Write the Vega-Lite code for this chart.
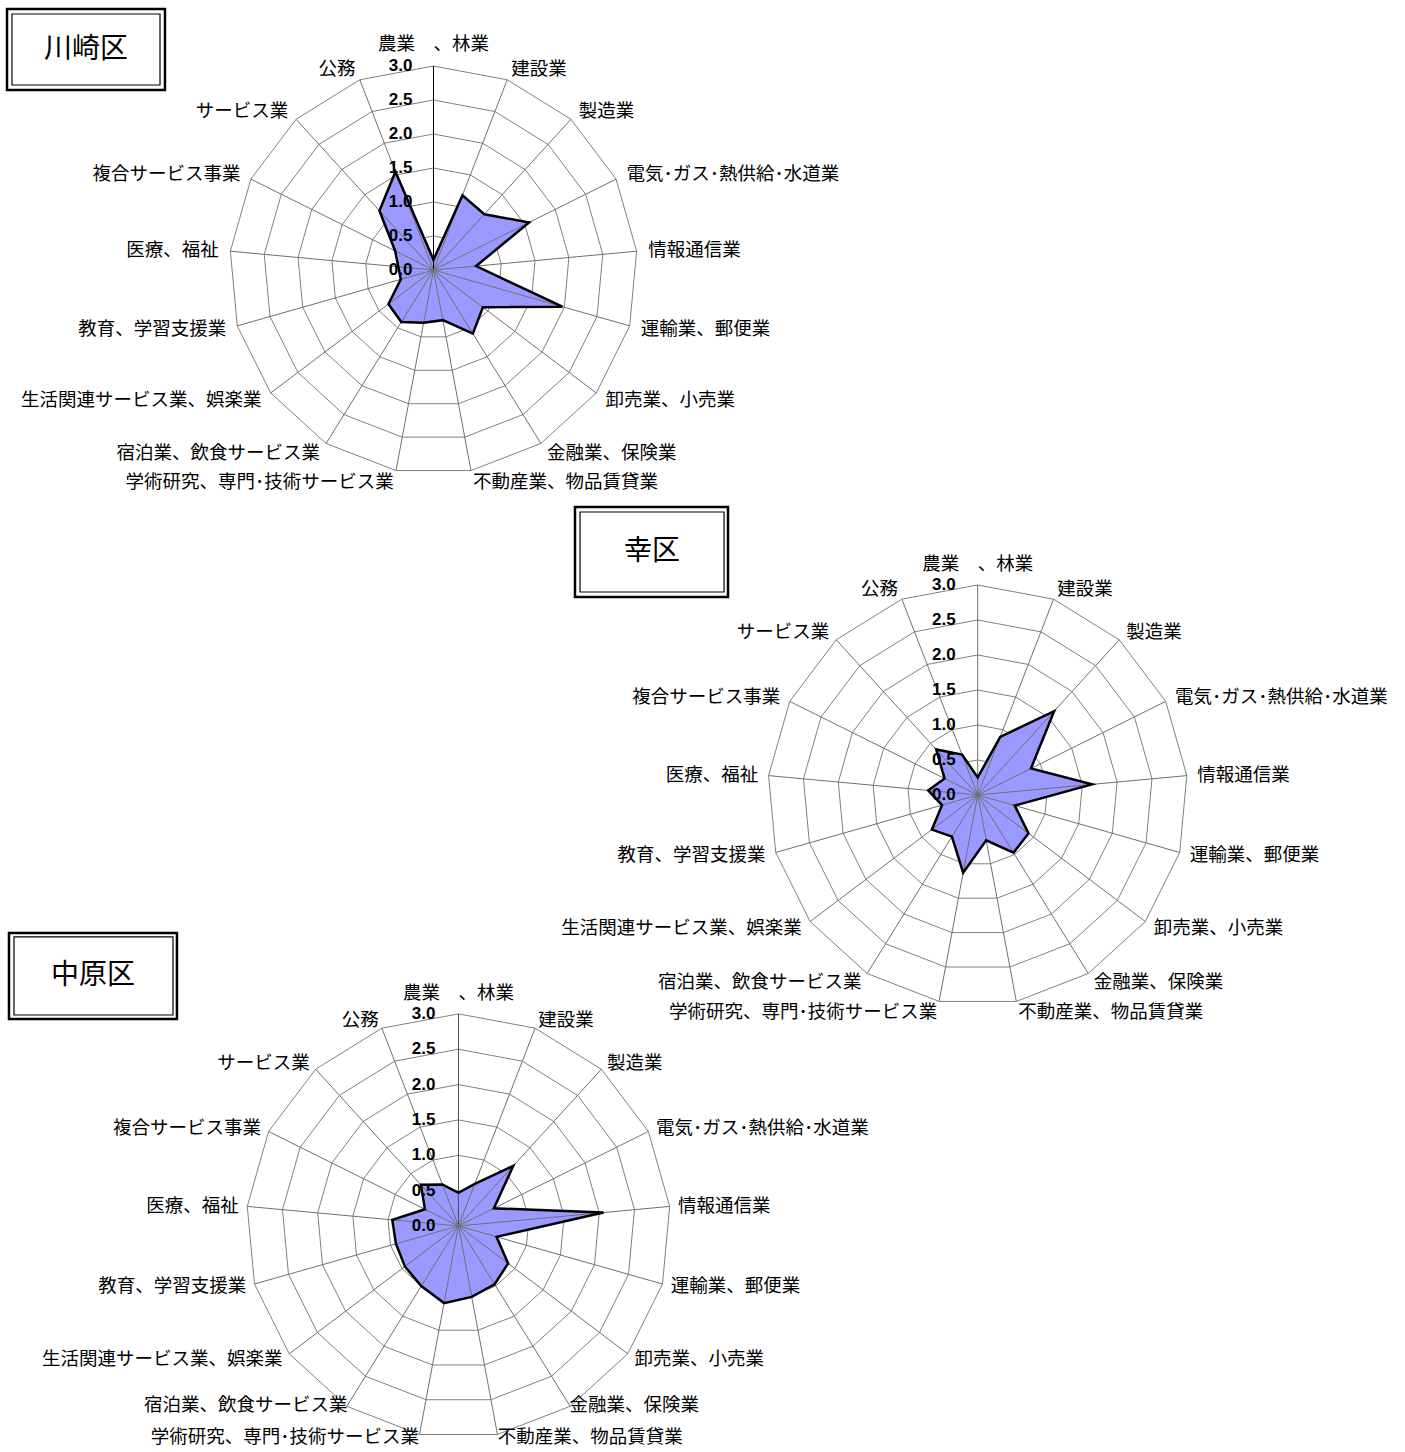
{
"$schema": "https://vega.github.io/schema/vega-lite/v6.json",
"width": 1405, "height": 1452, "autosize": {"type": "none"}, "padding": 0,
"background": "white",
"config": {"view": {"stroke": null}},
"datasets": {
"vals": [
{"district":"川崎区","idx":0,"category":"農業　、林業","value":0.15},
{"district":"川崎区","idx":1,"category":"建設業","value":1.18},
{"district":"川崎区","idx":2,"category":"製造業","value":1.11},
{"district":"川崎区","idx":3,"category":"電気･ガス･熱供給･水道業","value":1.57},
{"district":"川崎区","idx":4,"category":"情報通信業","value":0.63},
{"district":"川崎区","idx":5,"category":"運輸業、郵便業","value":1.97},
{"district":"川崎区","idx":6,"category":"卸売業、小売業","value":0.91},
{"district":"川崎区","idx":7,"category":"金融業、保険業","value":1.10},
{"district":"川崎区","idx":8,"category":"不動産業、物品賃貸業","value":0.75},
{"district":"川崎区","idx":9,"category":"学術研究、専門･技術サービス業","value":0.79},
{"district":"川崎区","idx":10,"category":"宿泊業、飲食サービス業","value":0.90},
{"district":"川崎区","idx":11,"category":"生活関連サービス業、娯楽業","value":0.83},
{"district":"川崎区","idx":12,"category":"教育、学習支援業","value":0.50},
{"district":"川崎区","idx":13,"category":"医療、福祉","value":0.52},
{"district":"川崎区","idx":14,"category":"複合サービス事業","value":0.63},
{"district":"川崎区","idx":15,"category":"サービス業","value":1.18},
{"district":"川崎区","idx":16,"category":"公務","value":1.55},
{"district":"幸区","idx":0,"category":"農業　、林業","value":0.25},
{"district":"幸区","idx":1,"category":"建設業","value":0.89},
{"district":"幸区","idx":2,"category":"製造業","value":1.62},
{"district":"幸区","idx":3,"category":"電気･ガス･熱供給･水道業","value":0.85},
{"district":"幸区","idx":4,"category":"情報通信業","value":1.64},
{"district":"幸区","idx":5,"category":"運輸業、郵便業","value":0.55},
{"district":"幸区","idx":6,"category":"卸売業、小売業","value":0.91},
{"district":"幸区","idx":7,"category":"金融業、保険業","value":0.97},
{"district":"幸区","idx":8,"category":"不動産業、物品賃貸業","value":0.66},
{"district":"幸区","idx":9,"category":"学術研究、専門･技術サービス業","value":1.13},
{"district":"幸区","idx":10,"category":"宿泊業、飲食サービス業","value":0.70},
{"district":"幸区","idx":11,"category":"生活関連サービス業、娯楽業","value":0.82},
{"district":"幸区","idx":12,"category":"教育、学習支援業","value":0.53},
{"district":"幸区","idx":13,"category":"医療、福祉","value":0.71},
{"district":"幸区","idx":14,"category":"複合サービス事業","value":0.53},
{"district":"幸区","idx":15,"category":"サービス業","value":0.88},
{"district":"幸区","idx":16,"category":"公務","value":0.62},
{"district":"中原区","idx":0,"category":"農業　、林業","value":0.47},
{"district":"中原区","idx":1,"category":"建設業","value":0.64},
{"district":"中原区","idx":2,"category":"製造業","value":1.15},
{"district":"中原区","idx":3,"category":"電気･ガス･熱供給･水道業","value":0.56},
{"district":"中原区","idx":4,"category":"情報通信業","value":2.06},
{"district":"中原区","idx":5,"category":"運輸業、郵便業","value":0.56},
{"district":"中原区","idx":6,"category":"卸売業、小売業","value":0.88},
{"district":"中原区","idx":7,"category":"金融業、保険業","value":0.97},
{"district":"中原区","idx":8,"category":"不動産業、物品賃貸業","value":1.02},
{"district":"中原区","idx":9,"category":"学術研究、専門･技術サービス業","value":1.11},
{"district":"中原区","idx":10,"category":"宿泊業、飲食サービス業","value":1.00},
{"district":"中原区","idx":11,"category":"生活関連サービス業、娯楽業","value":0.95},
{"district":"中原区","idx":12,"category":"教育、学習支援業","value":0.92},
{"district":"中原区","idx":13,"category":"医療、福祉","value":0.94},
{"district":"中原区","idx":14,"category":"複合サービス事業","value":0.53},
{"district":"中原区","idx":15,"category":"サービス業","value":0.79},
{"district":"中原区","idx":16,"category":"公務","value":0.63}
],
"levels": [{"level":0},{"level":0.5},{"level":1},{"level":1.5},{"level":2},{"level":2.5},{"level":3}]
},
"resolve": {"scale": {"x": "independent", "y": "independent"}},
"layer": [
{
"layer": [
{"data":{"name":"vals"},"transform":[{"filter":"datum.district=='川崎区'"},{"calculate":"[0.5,1,1.5,2,2.5,3]","as":"lv"},{"flatten":["lv"]},{"calculate":"datum.lv*sin(datum.idx*2*PI/17)","as":"gx"},{"calculate":"datum.lv*cos(datum.idx*2*PI/17)","as":"gy"}],
 "mark":{"type":"line","interpolate":"linear-closed","stroke":"#808080","strokeWidth":1},
 "encoding":{"x":{"field":"gx","type":"quantitative","scale":{"domain":[-6.375,14.287],"nice":false,"zero":false},"axis":null},"y":{"field":"gy","type":"quantitative","scale":{"domain":[-17.382,3.971],"nice":false,"zero":false},"axis":null},"detail":{"field":"lv","type":"nominal"},"order":{"field":"idx","type":"quantitative"}}},
{"data":{"name":"vals"},"transform":[{"filter":"datum.district=='川崎区'"},{"calculate":"datum.value*sin(datum.idx*2*PI/17)","as":"px"},{"calculate":"datum.value*cos(datum.idx*2*PI/17)","as":"py"}],
 "mark":{"type":"line","interpolate":"linear-closed","fill":"#9999ff","strokeWidth":0},
 "encoding":{"x":{"field":"px","type":"quantitative","scale":{"domain":[-6.375,14.287],"nice":false,"zero":false},"axis":null},"y":{"field":"py","type":"quantitative","scale":{"domain":[-17.382,3.971],"nice":false,"zero":false},"axis":null},"order":{"field":"idx","type":"quantitative"}}},
{"data":{"name":"vals"},"transform":[{"filter":"datum.district=='川崎区'"},{"calculate":"3*sin(datum.idx*2*PI/17)","as":"sx"},{"calculate":"3*cos(datum.idx*2*PI/17)","as":"sy"}],
 "mark":{"type":"rule","strokeWidth":1},
 "encoding":{"x":{"field":"sx","type":"quantitative","scale":{"domain":[-6.375,14.287],"nice":false,"zero":false},"axis":null},"y":{"field":"sy","type":"quantitative","scale":{"domain":[-17.382,3.971],"nice":false,"zero":false},"axis":null},"x2":{"datum":0},"y2":{"datum":0},
 "color":{"condition":{"test":"datum.idx==0","value":"black"},"value":"#707070"}}},
{"data":{"name":"vals"},"transform":[{"filter":"datum.district=='川崎区'"},{"calculate":"datum.value*sin(datum.idx*2*PI/17)","as":"px"},{"calculate":"datum.value*cos(datum.idx*2*PI/17)","as":"py"}],
 "mark":{"type":"line","interpolate":"linear-closed","stroke":"black","strokeWidth":2.5,"strokeJoin":"miter"},
 "encoding":{"x":{"field":"px","type":"quantitative","scale":{"domain":[-6.375,14.287],"nice":false,"zero":false},"axis":null},"y":{"field":"py","type":"quantitative","scale":{"domain":[-17.382,3.971],"nice":false,"zero":false},"axis":null},"order":{"field":"idx","type":"quantitative"}}},
{"data":{"name":"levels"},
 "mark":{"type":"text","align":"right","baseline":"middle","dx":-21,"font":"Liberation Sans Narrow, Liberation Sans","fontWeight":"bold","fontSize":17,"color":"black"},
 "encoding":{"x":{"datum":0,"type":"quantitative","scale":{"domain":[-6.375,14.287],"nice":false,"zero":false},"axis":null},"y":{"field":"level","type":"quantitative","scale":{"domain":[-17.382,3.971],"nice":false,"zero":false},"axis":null},"text":{"field":"level","type":"quantitative","format":".1f"}}},
{"data":{"name":"vals"},"transform":[{"filter":"datum.district=='川崎区' && datum.idx==0"},{"calculate":"3.32*sin(datum.idx*2*PI/17)","as":"lx"},{"calculate":"3.32*cos(datum.idx*2*PI/17)","as":"ly"}],
 "mark":{"type":"text","align":"center","baseline":"middle","font":"Noto Sans CJK JP","fontSize":18.5,"color":"black"},
 "encoding":{"x":{"field":"lx","type":"quantitative","scale":{"domain":[-6.375,14.287],"nice":false,"zero":false},"axis":null},"y":{"field":"ly","type":"quantitative","scale":{"domain":[-17.382,3.971],"nice":false,"zero":false},"axis":null},"text":{"field":"category","type":"nominal"}}},
{"data":{"name":"vals"},"transform":[{"filter":"datum.district=='川崎区' && datum.idx>=1 && datum.idx<=8"},{"calculate":"3.17*sin(datum.idx*2*PI/17)","as":"lx"},{"calculate":"3.17*cos(datum.idx*2*PI/17)","as":"ly"}],
 "mark":{"type":"text","align":"left","baseline":"middle","font":"Noto Sans CJK JP","fontSize":18.5,"color":"black"},
 "encoding":{"x":{"field":"lx","type":"quantitative","scale":{"domain":[-6.375,14.287],"nice":false,"zero":false},"axis":null},"y":{"field":"ly","type":"quantitative","scale":{"domain":[-17.382,3.971],"nice":false,"zero":false},"axis":null},"text":{"field":"category","type":"nominal"}}},
{"data":{"name":"vals"},"transform":[{"filter":"datum.district=='川崎区' && datum.idx>=9"},{"calculate":"3.17*sin(datum.idx*2*PI/17)","as":"lx"},{"calculate":"3.17*cos(datum.idx*2*PI/17)","as":"ly"}],
 "mark":{"type":"text","align":"right","baseline":"middle","font":"Noto Sans CJK JP","fontSize":18.5,"color":"black"},
 "encoding":{"x":{"field":"lx","type":"quantitative","scale":{"domain":[-6.375,14.287],"nice":false,"zero":false},"axis":null},"y":{"field":"ly","type":"quantitative","scale":{"domain":[-17.382,3.971],"nice":false,"zero":false},"axis":null},"text":{"field":"category","type":"nominal"}}},
{"data":{"values":[{}]},"mark":{"type":"rect","filled":false,"stroke":"black","strokeWidth":2.5},
 "encoding":{"x":{"datum":-6.272,"type":"quantitative","scale":{"domain":[-6.375,14.287],"nice":false,"zero":false},"axis":null},"x2":{"datum":-3.949},"y":{"datum":3.838,"type":"quantitative","scale":{"domain":[-17.382,3.971],"nice":false,"zero":false},"axis":null},"y2":{"datum":2.647}}},
{"data":{"values":[{}]},"mark":{"type":"rect","filled":false,"stroke":"black","strokeWidth":1.2},
 "encoding":{"x":{"datum":-6.199,"type":"quantitative","scale":{"domain":[-6.375,14.287],"nice":false,"zero":false},"axis":null},"x2":{"datum":-4.022},"y":{"datum":3.765,"type":"quantitative","scale":{"domain":[-17.382,3.971],"nice":false,"zero":false},"axis":null},"y2":{"datum":2.721}}},
{"data":{"values":[{}]},"mark":{"type":"text","text":"川崎区","align":"center","baseline":"middle","font":"Noto Sans CJK JP","fontSize":28,"color":"black"},
 "encoding":{"x":{"datum":-5.110,"type":"quantitative","scale":{"domain":[-6.375,14.287],"nice":false,"zero":false},"axis":null},"y":{"datum":3.235,"type":"quantitative","scale":{"domain":[-17.382,3.971],"nice":false,"zero":false},"axis":null}}}
]
},
{
"layer": [
{"data":{"name":"vals"},"transform":[{"filter":"datum.district=='幸区'"},{"calculate":"[0.5,1,1.5,2,2.5,3]","as":"lv"},{"flatten":["lv"]},{"calculate":"datum.lv*sin(datum.idx*2*PI/17)","as":"gx"},{"calculate":"datum.lv*cos(datum.idx*2*PI/17)","as":"gy"}],
 "mark":{"type":"line","interpolate":"linear-closed","stroke":"#808080","strokeWidth":1},
 "encoding":{"x":{"field":"gx","type":"quantitative","scale":{"domain":[-13.967,6.104],"nice":false,"zero":false},"axis":null},"y":{"field":"gy","type":"quantitative","scale":{"domain":[-9.386,11.357],"nice":false,"zero":false},"axis":null},"detail":{"field":"lv","type":"nominal"},"order":{"field":"idx","type":"quantitative"}}},
{"data":{"name":"vals"},"transform":[{"filter":"datum.district=='幸区'"},{"calculate":"datum.value*sin(datum.idx*2*PI/17)","as":"px"},{"calculate":"datum.value*cos(datum.idx*2*PI/17)","as":"py"}],
 "mark":{"type":"line","interpolate":"linear-closed","fill":"#9999ff","strokeWidth":0},
 "encoding":{"x":{"field":"px","type":"quantitative","scale":{"domain":[-13.967,6.104],"nice":false,"zero":false},"axis":null},"y":{"field":"py","type":"quantitative","scale":{"domain":[-9.386,11.357],"nice":false,"zero":false},"axis":null},"order":{"field":"idx","type":"quantitative"}}},
{"data":{"name":"vals"},"transform":[{"filter":"datum.district=='幸区'"},{"calculate":"3*sin(datum.idx*2*PI/17)","as":"sx"},{"calculate":"3*cos(datum.idx*2*PI/17)","as":"sy"}],
 "mark":{"type":"rule","stroke":"#707070","strokeWidth":1},
 "encoding":{"x":{"field":"sx","type":"quantitative","scale":{"domain":[-13.967,6.104],"nice":false,"zero":false},"axis":null},"y":{"field":"sy","type":"quantitative","scale":{"domain":[-9.386,11.357],"nice":false,"zero":false},"axis":null},"x2":{"datum":0},"y2":{"datum":0}}},
{"data":{"name":"vals"},"transform":[{"filter":"datum.district=='幸区'"},{"calculate":"datum.value*sin(datum.idx*2*PI/17)","as":"px"},{"calculate":"datum.value*cos(datum.idx*2*PI/17)","as":"py"}],
 "mark":{"type":"line","interpolate":"linear-closed","stroke":"black","strokeWidth":2.5,"strokeJoin":"miter"},
 "encoding":{"x":{"field":"px","type":"quantitative","scale":{"domain":[-13.967,6.104],"nice":false,"zero":false},"axis":null},"y":{"field":"py","type":"quantitative","scale":{"domain":[-9.386,11.357],"nice":false,"zero":false},"axis":null},"order":{"field":"idx","type":"quantitative"}}},
{"data":{"name":"levels"},
 "mark":{"type":"text","align":"right","baseline":"middle","dx":-22,"font":"Liberation Sans Narrow, Liberation Sans","fontWeight":"bold","fontSize":17,"color":"black"},
 "encoding":{"x":{"datum":0,"type":"quantitative","scale":{"domain":[-13.967,6.104],"nice":false,"zero":false},"axis":null},"y":{"field":"level","type":"quantitative","scale":{"domain":[-9.386,11.357],"nice":false,"zero":false},"axis":null},"text":{"field":"level","type":"quantitative","format":".1f"}}},
{"data":{"name":"vals"},"transform":[{"filter":"datum.district=='幸区' && datum.idx==0"},{"calculate":"3.3*sin(datum.idx*2*PI/17)","as":"lx"},{"calculate":"3.3*cos(datum.idx*2*PI/17)","as":"ly"}],
 "mark":{"type":"text","align":"center","baseline":"middle","font":"Noto Sans CJK JP","fontSize":18.5,"color":"black"},
 "encoding":{"x":{"field":"lx","type":"quantitative","scale":{"domain":[-13.967,6.104],"nice":false,"zero":false},"axis":null},"y":{"field":"ly","type":"quantitative","scale":{"domain":[-9.386,11.357],"nice":false,"zero":false},"axis":null},"text":{"field":"category","type":"nominal"}}},
{"data":{"name":"vals"},"transform":[{"filter":"datum.district=='幸区' && datum.idx>=1 && datum.idx<=8"},{"calculate":"3.15*sin(datum.idx*2*PI/17)","as":"lx"},{"calculate":"3.15*cos(datum.idx*2*PI/17)","as":"ly"}],
 "mark":{"type":"text","align":"left","baseline":"middle","font":"Noto Sans CJK JP","fontSize":18.5,"color":"black"},
 "encoding":{"x":{"field":"lx","type":"quantitative","scale":{"domain":[-13.967,6.104],"nice":false,"zero":false},"axis":null},"y":{"field":"ly","type":"quantitative","scale":{"domain":[-9.386,11.357],"nice":false,"zero":false},"axis":null},"text":{"field":"category","type":"nominal"}}},
{"data":{"name":"vals"},"transform":[{"filter":"datum.district=='幸区' && datum.idx>=9"},{"calculate":"3.15*sin(datum.idx*2*PI/17)","as":"lx"},{"calculate":"3.15*cos(datum.idx*2*PI/17)","as":"ly"}],
 "mark":{"type":"text","align":"right","baseline":"middle","font":"Noto Sans CJK JP","fontSize":18.5,"color":"black"},
 "encoding":{"x":{"field":"lx","type":"quantitative","scale":{"domain":[-13.967,6.104],"nice":false,"zero":false},"axis":null},"y":{"field":"ly","type":"quantitative","scale":{"domain":[-9.386,11.357],"nice":false,"zero":false},"axis":null},"text":{"field":"category","type":"nominal"}}},
{"data":{"values":[{}]},"mark":{"type":"rect","filled":false,"stroke":"black","strokeWidth":2.5},
 "encoding":{"x":{"datum":-5.753,"type":"quantitative","scale":{"domain":[-13.967,6.104],"nice":false,"zero":false},"axis":null},"x2":{"datum":-3.567},"y":{"datum":4.114,"type":"quantitative","scale":{"domain":[-9.386,11.357],"nice":false,"zero":false},"axis":null},"y2":{"datum":2.829}}},
{"data":{"values":[{}]},"mark":{"type":"rect","filled":false,"stroke":"black","strokeWidth":1.2},
 "encoding":{"x":{"datum":-5.681,"type":"quantitative","scale":{"domain":[-13.967,6.104],"nice":false,"zero":false},"axis":null},"x2":{"datum":-3.624},"y":{"datum":4.043,"type":"quantitative","scale":{"domain":[-9.386,11.357],"nice":false,"zero":false},"axis":null},"y2":{"datum":2.9}}},
{"data":{"values":[{}]},"mark":{"type":"text","text":"幸区","align":"center","baseline":"middle","font":"Noto Sans CJK JP","fontSize":28,"color":"black"},
 "encoding":{"x":{"datum":-4.653,"type":"quantitative","scale":{"domain":[-13.967,6.104],"nice":false,"zero":false},"axis":null},"y":{"datum":3.471,"type":"quantitative","scale":{"domain":[-9.386,11.357],"nice":false,"zero":false},"axis":null}}}
]
},
{
"layer": [
{"data":{"name":"vals"},"transform":[{"filter":"datum.district=='中原区'"},{"calculate":"[0.5,1,1.5,2,2.5,3]","as":"lv"},{"flatten":["lv"]},{"calculate":"datum.lv*sin(datum.idx*2*PI/17)","as":"gx"},{"calculate":"datum.lv*cos(datum.idx*2*PI/17)","as":"gy"}],
 "mark":{"type":"line","interpolate":"linear-closed","stroke":"#808080","strokeWidth":1},
 "encoding":{"x":{"field":"gx","type":"quantitative","scale":{"domain":[-6.485,13.388],"nice":false,"zero":false},"axis":null},"y":{"field":"gy","type":"quantitative","scale":{"domain":[-3.197,17.341],"nice":false,"zero":false},"axis":null},"detail":{"field":"lv","type":"nominal"},"order":{"field":"idx","type":"quantitative"}}},
{"data":{"name":"vals"},"transform":[{"filter":"datum.district=='中原区'"},{"calculate":"datum.value*sin(datum.idx*2*PI/17)","as":"px"},{"calculate":"datum.value*cos(datum.idx*2*PI/17)","as":"py"}],
 "mark":{"type":"line","interpolate":"linear-closed","fill":"#9999ff","strokeWidth":0},
 "encoding":{"x":{"field":"px","type":"quantitative","scale":{"domain":[-6.485,13.388],"nice":false,"zero":false},"axis":null},"y":{"field":"py","type":"quantitative","scale":{"domain":[-3.197,17.341],"nice":false,"zero":false},"axis":null},"order":{"field":"idx","type":"quantitative"}}},
{"data":{"name":"vals"},"transform":[{"filter":"datum.district=='中原区'"},{"calculate":"3*sin(datum.idx*2*PI/17)","as":"sx"},{"calculate":"3*cos(datum.idx*2*PI/17)","as":"sy"}],
 "mark":{"type":"rule","strokeWidth":1},
 "encoding":{"x":{"field":"sx","type":"quantitative","scale":{"domain":[-6.485,13.388],"nice":false,"zero":false},"axis":null},"y":{"field":"sy","type":"quantitative","scale":{"domain":[-3.197,17.341],"nice":false,"zero":false},"axis":null},"x2":{"datum":0},"y2":{"datum":0},
 "color":{"condition":{"test":"datum.idx==0","value":"#505050"},"value":"#707070"}}},
{"data":{"name":"vals"},"transform":[{"filter":"datum.district=='中原区'"},{"calculate":"datum.value*sin(datum.idx*2*PI/17)","as":"px"},{"calculate":"datum.value*cos(datum.idx*2*PI/17)","as":"py"}],
 "mark":{"type":"line","interpolate":"linear-closed","stroke":"black","strokeWidth":2.5,"strokeJoin":"miter"},
 "encoding":{"x":{"field":"px","type":"quantitative","scale":{"domain":[-6.485,13.388],"nice":false,"zero":false},"axis":null},"y":{"field":"py","type":"quantitative","scale":{"domain":[-3.197,17.341],"nice":false,"zero":false},"axis":null},"order":{"field":"idx","type":"quantitative"}}},
{"data":{"name":"levels"},
 "mark":{"type":"text","align":"right","baseline":"middle","dx":-23,"font":"Liberation Sans Narrow, Liberation Sans","fontWeight":"bold","fontSize":17,"color":"black"},
 "encoding":{"x":{"datum":0,"type":"quantitative","scale":{"domain":[-6.485,13.388],"nice":false,"zero":false},"axis":null},"y":{"field":"level","type":"quantitative","scale":{"domain":[-3.197,17.341],"nice":false,"zero":false},"axis":null},"text":{"field":"level","type":"quantitative","format":".1f"}}},
{"data":{"name":"vals"},"transform":[{"filter":"datum.district=='中原区' && datum.idx==0"},{"calculate":"3.3*sin(datum.idx*2*PI/17)","as":"lx"},{"calculate":"3.3*cos(datum.idx*2*PI/17)","as":"ly"}],
 "mark":{"type":"text","align":"center","baseline":"middle","font":"Noto Sans CJK JP","fontSize":18.5,"color":"black"},
 "encoding":{"x":{"field":"lx","type":"quantitative","scale":{"domain":[-6.485,13.388],"nice":false,"zero":false},"axis":null},"y":{"field":"ly","type":"quantitative","scale":{"domain":[-3.197,17.341],"nice":false,"zero":false},"axis":null},"text":{"field":"category","type":"nominal"}}},
{"data":{"name":"vals"},"transform":[{"filter":"datum.district=='中原区' && datum.idx>=1 && datum.idx<=8"},{"calculate":"datum.idx==8 ? 3.03 : (datum.idx==7 ? 2.98 : 3.12)","as":"lr"},{"calculate":"datum.lr*sin(datum.idx*2*PI/17)","as":"lx"},{"calculate":"datum.lr*cos(datum.idx*2*PI/17)","as":"ly"}],
 "mark":{"type":"text","align":"left","baseline":"middle","font":"Noto Sans CJK JP","fontSize":18.5,"color":"black"},
 "encoding":{"x":{"field":"lx","type":"quantitative","scale":{"domain":[-6.485,13.388],"nice":false,"zero":false},"axis":null},"y":{"field":"ly","type":"quantitative","scale":{"domain":[-3.197,17.341],"nice":false,"zero":false},"axis":null},"text":{"field":"category","type":"nominal"}}},
{"data":{"name":"vals"},"transform":[{"filter":"datum.district=='中原区' && datum.idx>=9"},{"calculate":"datum.idx==9 ? 3.03 : (datum.idx==10 ? 2.98 : 3.12)","as":"lr"},{"calculate":"datum.lr*sin(datum.idx*2*PI/17)","as":"lx"},{"calculate":"datum.lr*cos(datum.idx*2*PI/17)","as":"ly"}],
 "mark":{"type":"text","align":"right","baseline":"middle","font":"Noto Sans CJK JP","fontSize":18.5,"color":"black"},
 "encoding":{"x":{"field":"lx","type":"quantitative","scale":{"domain":[-6.485,13.388],"nice":false,"zero":false},"axis":null},"y":{"field":"ly","type":"quantitative","scale":{"domain":[-3.197,17.341],"nice":false,"zero":false},"axis":null},"text":{"field":"category","type":"nominal"}}},
{"data":{"values":[{}]},"mark":{"type":"rect","filled":false,"stroke":"black","strokeWidth":2.5},
 "encoding":{"x":{"datum":-6.358,"type":"quantitative","scale":{"domain":[-6.485,13.388],"nice":false,"zero":false},"axis":null},"x2":{"datum":-3.982},"y":{"datum":4.144,"type":"quantitative","scale":{"domain":[-3.197,17.341],"nice":false,"zero":false},"axis":null},"y2":{"datum":2.928}}},
{"data":{"values":[{}]},"mark":{"type":"rect","filled":false,"stroke":"black","strokeWidth":1.2},
 "encoding":{"x":{"datum":-6.287,"type":"quantitative","scale":{"domain":[-6.485,13.388],"nice":false,"zero":false},"axis":null},"x2":{"datum":-4.038},"y":{"datum":4.088,"type":"quantitative","scale":{"domain":[-3.197,17.341],"nice":false,"zero":false},"axis":null},"y2":{"datum":2.984}}},
{"data":{"values":[{}]},"mark":{"type":"text","text":"中原区","align":"center","baseline":"middle","font":"Noto Sans CJK JP","fontSize":28,"color":"black"},
 "encoding":{"x":{"datum":-5.170,"type":"quantitative","scale":{"domain":[-6.485,13.388],"nice":false,"zero":false},"axis":null},"y":{"datum":3.536,"type":"quantitative","scale":{"domain":[-3.197,17.341],"nice":false,"zero":false},"axis":null}}}
]
}
]
}
